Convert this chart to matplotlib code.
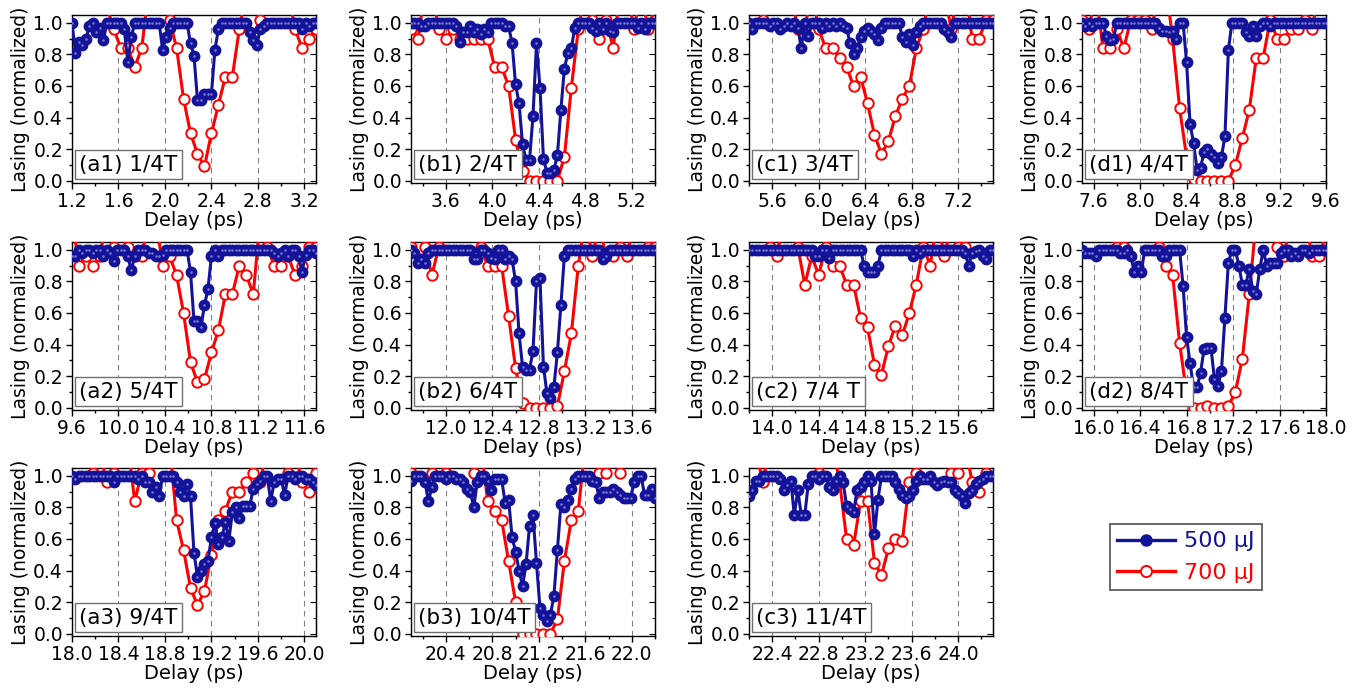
import numpy as np
import matplotlib
matplotlib.use("Agg")
import matplotlib.pyplot as plt
from matplotlib.lines import Line2D
from matplotlib.ticker import MultipleLocator, FormatStrFormatter

plt.rcParams["font.family"] = ["DejaVu Sans"]

# =========================
# DATA (delay scans, 0.03 ps for 500 uJ and 0.06 ps for 700 uJ)
# =========================
BLUE_STEP = 0.03
RED_STEP = 0.06
WINDOW = 2.1

A1_BLUE = [1.00, 0.81, 0.88, 0.86, 0.90, 0.98, 1.00, 0.94, 0.97, 0.89,
           1.00, 1.00, 1.00, 1.00, 1.00, 0.96, 0.75, 0.91, 1.00, 1.00,
           1.00, 1.00, 1.00, 1.00, 1.00, 1.00, 0.83, 0.91, 0.97, 1.00,
           1.00, 1.00, 1.00, 1.00, 0.87, 0.79, 0.51, 0.51, 0.55, 0.55,
           0.55, 0.83, 0.96, 1.00, 1.00, 1.00, 1.00, 1.00, 1.00, 1.00,
           1.00, 0.94, 0.89, 0.86, 0.96, 0.98, 1.00, 1.00, 1.00, 1.00,
           1.00, 1.00, 1.00, 1.00, 1.00, 1.00, 0.96, 1.00, 0.98, 1.00,
           1.00]
A1_RED = [1.20, 1.30, 1.25, 1.30, 1.30, 1.10, 0.96, 0.84, 0.84, 0.72,
          0.84, 1.20, 1.30, 1.25, 1.02, 0.84, 0.52, 0.30, 0.17, 0.09,
          0.30, 0.48, 0.66, 0.66, 0.96, 1.20, 1.25, 1.02, 1.20, 1.30,
          1.30, 1.20, 0.96, 0.84, 0.90, 0.96]

B1_BLUE = [1.00, 1.00, 1.00, 0.98, 0.98, 1.00, 1.00, 1.00, 1.00, 1.00,
           1.00, 1.00, 1.00, 0.98, 0.88, 0.94, 0.94, 0.98, 0.94, 0.96,
           0.93, 0.96, 0.94, 1.00, 1.00, 1.00, 1.00, 0.98, 0.98, 0.87,
           0.61, 0.49, 0.23, 0.13, 0.13, 0.41, 0.87, 0.59, 0.14, 0.05,
           0.05, 0.07, 0.16, 0.45, 0.71, 0.81, 0.84, 0.97, 1.00, 1.00,
           1.00, 1.00, 0.97, 0.95, 1.00, 0.96, 1.00, 0.95, 0.94, 1.00,
           1.00, 1.00, 1.00, 1.00, 1.00, 0.97, 1.00, 0.96, 1.00, 1.00,
           1.00]
B1_RED = [0.96, 0.90, 1.20, 1.20, 0.96, 0.90, 0.96, 0.90, 0.90, 0.90,
          0.90, 0.90, 0.72, 0.72, 0.60, 0.26, 0.06, 0.00, 0.00, 0.00,
          0.00, 0.00, 0.15, 0.59, 0.96, 1.20, 1.02, 0.90, 1.02, 0.84,
          1.20, 1.20, 0.96, 1.20, 0.96, 1.10]

C1_BLUE = [1.00, 0.96, 1.00, 1.00, 1.00, 1.00, 0.98, 1.00, 1.00, 0.96,
           0.98, 1.00, 0.98, 1.00, 0.97, 0.84, 1.00, 0.92, 1.00, 1.00,
           1.00, 0.97, 1.00, 0.98, 1.00, 0.98, 1.00, 0.98, 0.97, 0.87,
           0.80, 0.84, 0.91, 0.95, 0.97, 0.95, 0.93, 0.89, 0.97, 1.00,
           1.00, 1.00, 1.00, 1.00, 0.91, 0.88, 0.93, 0.86, 0.94, 0.98,
           1.00, 1.00, 1.00, 1.00, 1.00, 1.00, 0.96, 0.94, 0.91, 1.00,
           1.00, 1.00, 1.00, 1.00, 1.00, 1.00, 1.00, 1.00, 1.00, 1.00,
           1.00]
C1_RED = [1.20, 1.20, 1.02, 1.20, 1.25, 1.25, 1.20, 0.96, 0.96, 1.20,
          0.96, 0.84, 0.84, 0.78, 0.72, 0.60, 0.66, 0.49, 0.29, 0.17,
          0.25, 0.41, 0.52, 0.60, 0.84, 0.96, 1.20, 1.25, 1.20, 0.96,
          1.20, 1.25, 0.90, 0.90, 1.02, 1.02]

D1_BLUE = [1.00, 0.98, 1.00, 0.98, 1.00, 1.00, 1.00, 0.92, 0.89, 0.90,
           1.00, 1.00, 1.00, 1.00, 1.00, 1.00, 1.00, 1.00, 1.00, 1.00,
           1.00, 1.00, 0.97, 0.95, 0.95, 0.94, 0.95, 0.90, 1.00, 1.00,
           0.75, 0.36, 0.24, 0.07, 0.08, 0.18, 0.20, 0.17, 0.15, 0.11,
           0.15, 0.28, 0.83, 1.00, 1.00, 1.00, 1.00, 0.94, 0.92, 0.98,
           0.92, 0.98, 1.00, 1.00, 0.98, 1.00, 1.00, 1.00, 1.00, 1.00,
           1.00, 1.00, 1.00, 1.00, 1.00, 1.00, 1.00, 1.00, 1.00, 1.00,
           1.00]
D1_RED = [1.02, 0.96, 1.20, 0.84, 0.84, 0.96, 0.84, 1.02, 1.02, 1.02,
          0.96, 1.20, 1.25, 0.90, 0.46, 0.15, 0.01, 0.00, 0.00, 0.00,
          0.00, 0.00, 0.10, 0.27, 0.45, 0.78, 0.78, 1.02, 0.90, 0.90,
          0.96, 0.96, 1.02, 0.96, 1.20, 1.25]

A2_BLUE = [0.96, 0.96, 1.00, 0.98, 1.00, 1.00, 0.98, 1.00, 1.00, 0.96,
           1.00, 0.98, 0.93, 1.00, 1.00, 1.00, 0.96, 0.87, 0.96, 1.00,
           1.00, 1.00, 0.98, 0.98, 0.96, 0.96, 0.97, 1.00, 1.00, 1.00,
           1.00, 1.00, 1.00, 1.00, 0.86, 0.55, 0.55, 0.51, 0.65, 0.75,
           0.96, 1.00, 0.96, 1.00, 1.00, 1.00, 1.00, 1.00, 1.00, 1.00,
           1.00, 1.00, 1.00, 1.00, 1.00, 1.00, 1.00, 1.00, 0.98, 0.96,
           0.98, 1.00, 0.96, 1.00, 1.00, 0.96, 0.86, 0.97, 1.00, 1.00,
           0.98]
A2_RED = [1.20, 0.90, 0.96, 0.90, 0.96, 1.20, 1.02, 1.10, 1.02, 0.96,
          0.96, 1.20, 1.20, 0.90, 0.96, 0.84, 0.60, 0.29, 0.16, 0.18,
          0.35, 0.49, 0.72, 0.72, 0.90, 0.84, 0.72, 1.20, 1.02, 0.90,
          0.90, 0.96, 0.84, 0.90, 1.02, 1.02]

B2_BLUE = [1.00, 0.98, 0.92, 0.94, 0.92, 0.98, 1.00, 1.00, 1.00, 1.00,
           1.00, 1.00, 1.00, 1.00, 1.00, 1.00, 1.00, 1.00, 0.94, 0.94,
           1.00, 1.00, 0.98, 0.95, 0.94, 1.00, 1.00, 0.94, 0.96, 0.94,
           0.80, 0.47, 0.26, 0.24, 0.24, 0.36, 0.80, 0.82, 0.26, 0.09,
           0.06, 0.13, 0.35, 0.65, 0.96, 1.00, 1.00, 1.00, 1.00, 1.00,
           1.00, 1.00, 1.00, 1.00, 1.00, 0.94, 0.96, 1.00, 1.00, 1.00,
           1.00, 1.00, 1.00, 1.00, 1.00, 1.00, 1.00, 1.00, 1.00, 1.00,
           1.00]
B2_RED = [1.02, 1.10, 1.02, 0.84, 1.02, 1.20, 1.25, 1.25, 1.25, 1.20,
          1.02, 0.90, 0.90, 0.90, 0.58, 0.25, 0.03, 0.00, 0.00, 0.00,
          0.00, 0.01, 0.23, 0.47, 0.90, 1.20, 0.96, 1.15, 0.96, 0.96,
          1.02, 0.96, 1.20, 1.20, 1.02, 1.02]

C2_BLUE = [1.00, 1.00, 1.00, 1.00, 1.00, 1.00, 1.00, 1.00, 1.00, 1.00,
           1.00, 1.00, 1.00, 1.00, 1.00, 1.00, 1.00, 1.00, 1.00, 0.96,
           0.96, 1.00, 1.00, 0.95, 1.00, 1.00, 1.00, 1.00, 1.00, 1.00,
           1.00, 1.00, 1.00, 0.90, 0.86, 0.86, 0.86, 0.90, 1.00, 1.00,
           1.00, 1.00, 1.00, 1.00, 1.00, 1.00, 1.00, 0.96, 1.00, 0.98,
           1.00, 1.00, 1.00, 1.00, 1.00, 1.00, 1.00, 1.00, 1.00, 1.00,
           1.00, 1.00, 0.98, 0.90, 0.98, 0.99, 1.00, 0.96, 0.94, 1.00,
           1.00]
C2_RED = [1.20, 1.25, 1.20, 1.02, 0.96, 1.20, 1.25, 1.02, 0.78, 0.96,
          0.84, 1.02, 0.90, 0.90, 0.78, 0.78, 0.57, 0.51, 0.27, 0.21,
          0.39, 0.52, 0.46, 0.60, 0.78, 1.02, 0.90, 1.20, 0.96, 1.15,
          1.02, 1.02, 1.20, 1.25, 1.25, 1.20]

D2_BLUE = [1.00, 0.98, 0.98, 0.98, 0.96, 1.00, 1.00, 1.00, 1.00, 1.00,
           1.00, 0.98, 0.98, 1.00, 0.96, 0.86, 0.90, 0.86, 1.00, 1.00,
           1.00, 1.00, 1.00, 0.96, 0.96, 1.00, 1.00, 1.00, 1.00, 0.77,
           0.45, 0.28, 0.13, 0.13, 0.22, 0.37, 0.38, 0.38, 0.18, 0.14,
           0.23, 0.57, 0.92, 1.00, 1.00, 0.90, 0.78, 0.78, 0.88, 0.74,
           0.72, 0.88, 1.00, 0.90, 0.92, 0.92, 0.92, 0.98, 1.00, 1.00,
           0.96, 0.98, 0.96, 1.00, 1.00, 0.98, 1.00, 1.00, 1.00, 1.00,
           1.00]
D2_RED = [1.20, 1.25, 1.25, 1.20, 1.10, 1.02, 1.02, 1.20, 1.25, 1.25,
          1.15, 1.02, 0.90, 0.84, 0.41, 0.09, 0.00, 0.00, 0.01, 0.00,
          0.00, 0.01, 0.10, 0.31, 0.72, 1.20, 1.30, 1.20, 1.02, 0.96,
          1.20, 1.25, 1.20, 0.96, 0.96, 1.10]

A3_BLUE = [1.00, 0.98, 1.00, 1.00, 1.00, 1.00, 1.00, 1.00, 1.00, 1.00,
           1.00, 1.00, 0.96, 1.00, 1.00, 1.00, 1.00, 1.00, 1.00, 0.98,
           1.00, 0.96, 0.96, 0.90, 0.93, 0.87, 1.00, 1.00, 1.00, 1.00,
           0.96, 0.90, 0.87, 0.95, 0.87, 0.51, 0.36, 0.40, 0.44, 0.46,
           0.61, 0.70, 0.57, 0.61, 0.71, 0.59, 0.77, 0.80, 0.73, 0.81,
           0.81, 0.81, 0.92, 0.95, 0.97, 1.00, 1.00, 0.84, 0.96, 0.98,
           0.98, 0.88, 1.00, 1.00, 0.98, 1.00, 1.00, 0.98, 0.98, 0.96,
           0.94]
A3_RED = [1.20, 1.25, 1.20, 1.02, 1.15, 0.96, 1.02, 1.20, 1.20, 0.84,
          1.02, 1.02, 1.20, 1.25, 1.20, 0.72, 0.53, 0.29, 0.18, 0.27,
          0.50, 0.72, 0.78, 0.90, 0.90, 0.96, 1.02, 0.96, 1.20, 1.25,
          1.20, 1.02, 1.15, 0.96, 0.90, 1.02]

B3_BLUE = [0.97, 1.00, 1.00, 1.00, 0.96, 0.84, 0.93, 1.00, 1.00, 1.00,
           0.98, 1.00, 1.00, 0.98, 0.98, 0.96, 0.92, 0.90, 0.80, 0.96,
           1.00, 1.00, 0.97, 0.91, 0.98, 0.98, 0.98, 0.83, 0.85, 0.61,
           0.52, 0.40, 0.30, 0.44, 0.68, 0.75, 0.45, 0.16, 0.12, 0.08,
           0.12, 0.24, 0.53, 0.82, 0.80, 0.85, 0.92, 0.98, 1.00, 1.00,
           1.00, 1.00, 0.97, 0.96, 0.86, 0.90, 0.90, 0.90, 0.92, 0.90,
           0.88, 0.86, 0.86, 0.86, 0.96, 1.00, 1.00, 0.88, 0.88, 0.92,
           0.86]
B3_RED = [1.02, 1.20, 1.20, 1.02, 1.10, 1.02, 1.20, 1.25, 1.20, 1.02,
          1.20, 0.84, 0.78, 0.72, 0.46, 0.20, 0.00, 0.00, 0.00, 0.00,
          0.00, 0.09, 0.46, 0.72, 0.78, 1.20, 1.25, 1.02, 1.02, 1.20,
          1.02, 1.20, 1.25, 1.25, 1.20, 1.20]

C3_BLUE = [0.87, 0.91, 0.97, 0.97, 1.00, 1.00, 1.00, 1.00, 1.00, 0.98,
           0.91, 0.94, 0.97, 0.75, 0.91, 0.75, 0.75, 0.95, 1.00, 1.00,
           0.98, 1.00, 1.00, 0.93, 0.91, 0.97, 1.00, 0.96, 0.81, 0.79,
           0.77, 0.91, 0.93, 0.96, 1.00, 0.97, 0.63, 0.85, 1.00, 1.00,
           1.00, 1.00, 0.96, 0.92, 0.88, 0.86, 0.87, 0.91, 0.97, 1.00,
           0.98, 0.98, 1.00, 0.96, 0.94, 0.96, 0.97, 0.96, 0.96, 0.91,
           0.89, 0.87, 0.83, 0.89, 0.91, 0.95, 0.97, 0.98, 1.00, 1.00,
           1.00]
C3_RED = [1.20, 1.15, 0.96, 1.20, 1.25, 1.25, 1.25, 1.25, 1.25, 1.20,
          1.02, 1.20, 1.20, 0.96, 0.60, 0.56, 0.84, 0.84, 0.45, 0.37,
          0.54, 0.60, 0.59, 0.96, 1.02, 1.20, 1.25, 1.25, 1.20, 1.02,
          1.02, 1.20, 0.96, 0.90, 1.02, 1.20]

PANELS = [
    ("(a1) 1/4T", 1.2, A1_BLUE, A1_RED),
    ("(b1) 2/4T", 3.3, B1_BLUE, B1_RED),
    ("(c1) 3/4T", 5.4, C1_BLUE, C1_RED),
    ("(d1) 4/4T", 7.5, D1_BLUE, D1_RED),
    ("(a2) 5/4T", 9.6, A2_BLUE, A2_RED),
    ("(b2) 6/4T", 11.7, B2_BLUE, B2_RED),
    ("(c2) 7/4 T", 13.8, C2_BLUE, C2_RED),
    ("(d2) 8/4T", 15.9, D2_BLUE, D2_RED),
    ("(a3) 9/4T", 18.0, A3_BLUE, A3_RED),
    ("(b3) 10/4T", 20.1, B3_BLUE, B3_RED),
    ("(c3) 11/4T", 22.2, C3_BLUE, C3_RED),
]
LEGEND_LABELS = ["500 \u03bcJ", "700 \u03bcJ"]

# =========================
# STYLE / LAYOUT
# =========================
NAVY = "#13139a"
RED = "#ff0000"
FIG_W, FIG_H = 1360, 690
COL_LEFT = [72, 411, 749, 1082]
ROW_TOP = [15, 242, 468]
AX_W, AX_H = 244, 168


def style_axes(ax, x0):
    ax.set_xlim(x0, x0 + WINDOW)
    ax.set_ylim(-0.015, 1.05)
    ax.xaxis.set_major_locator(MultipleLocator(0.4))
    ax.xaxis.set_minor_locator(MultipleLocator(0.2))
    ax.yaxis.set_major_locator(MultipleLocator(0.2))
    ax.yaxis.set_minor_locator(MultipleLocator(0.1))
    ax.xaxis.set_major_formatter(FormatStrFormatter("%.1f"))
    ax.yaxis.set_major_formatter(FormatStrFormatter("%.1f"))
    ax.tick_params(which="both", direction="out", labelsize=13.5, width=1,
                   pad=2.5)
    ax.tick_params(which="major", length=4)
    ax.tick_params(which="minor", length=2.5)
    ax.grid(axis="x", which="major", color="#808080", lw=0.8, ls=(0, (5, 4)))
    for sp in ax.spines.values():
        sp.set_linewidth(1.0)
    sec = ax.secondary_yaxis("right")
    sec.yaxis.set_major_locator(MultipleLocator(0.2))
    sec.yaxis.set_minor_locator(MultipleLocator(0.1))
    sec.tick_params(which="both", direction="in", labelright=False)
    sec.tick_params(which="major", length=4)
    sec.tick_params(which="minor", length=2.5)
    ax.set_xlabel("Delay (ps)", fontsize=14, labelpad=0)
    ax.set_ylabel("Lasing (normalized)", fontsize=13.5, labelpad=2)


def main():
    fig = plt.figure(figsize=(FIG_W / 100, FIG_H / 100), dpi=100)

    for i, (label, x0, blue, red) in enumerate(PANELS):
        row, col = divmod(i, 4)
        rect = [COL_LEFT[col] / FIG_W, 1 - (ROW_TOP[row] + AX_H) / FIG_H,
                AX_W / FIG_W, AX_H / FIG_H]
        ax = fig.add_axes(rect)

        x_blue = x0 + BLUE_STEP * np.arange(len(blue))
        x_red = x0 + RED_STEP * np.arange(len(red))

        ax.plot(x_red, red, "-o", color=RED, lw=2.2, ms=7.5,
                mfc="white", mec=RED, mew=1.4, zorder=3)
        ax.plot(x_blue, blue, "-o", color=NAVY, lw=2.2, ms=7.5,
                mec=NAVY, zorder=4)
        # small highlight in the middle of the blue balls
        ax.plot(x_blue, blue, "o", color="#7b7bcf", ms=1.8, mew=0, zorder=5)

        style_axes(ax, x0)
        ax.text(0.03, 0.05, label, transform=ax.transAxes, fontsize=15.5,
                ha="left", va="bottom", zorder=6,
                bbox=dict(boxstyle="square,pad=0.2", fc="white",
                          ec="#707070", lw=1))

    handles = [
        Line2D([], [], color=NAVY, lw=2.4, marker="o", ms=8, mec=NAVY),
        Line2D([], [], color=RED, lw=2.4, marker="o", ms=8, mfc="white",
               mec=RED, mew=1.4),
    ]
    leg = fig.legend(handles, LEGEND_LABELS, loc="center",
                     bbox_to_anchor=(1186 / FIG_W, 1 - 557 / FIG_H),
                     fontsize=16, frameon=True, fancybox=False,
                     edgecolor="#333333", labelcolor=[NAVY, RED],
                     handlelength=2.6, handletextpad=0.4,
                     borderpad=0.35, labelspacing=0.5, borderaxespad=0)
    leg.get_frame().set_linewidth(1.3)

    fig.savefig("out.png", dpi=100)
    plt.close(fig)


if __name__ == "__main__":
    main()
